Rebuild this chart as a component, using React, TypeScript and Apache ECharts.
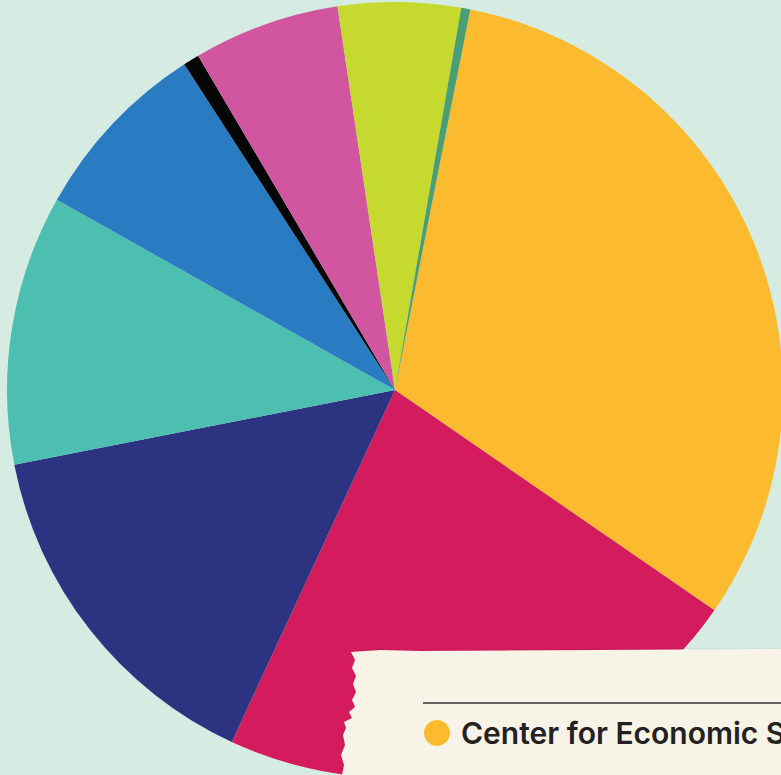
import React, { useEffect, useRef } from "react";
import * as echarts from "echarts";

const categories = [
  "Center for Economic Studies",
  "Category B",
  "Category C",
  "Category D",
  "Category E",
  "Category F",
  "Category G",
  "Category H",
  "Category I",
];
const values = [31.5, 22.3, 15.0, 11.25, 7.7, 0.67, 6.1, 5.1, 0.38];
const colors = [
  "#fcba2e",
  "#d41b5e",
  "#2c3481",
  "#4dbfb1",
  "#2a7cc2",
  "#050505",
  "#d2559f",
  "#c6d92e",
  "#4a9e74",
];

export default function App() {
  const ref = useRef<HTMLDivElement>(null);
  useEffect(() => {
    document.body.style.margin = "0";
    const chart = echarts.init(ref.current!, null, { renderer: "svg" });
    const tornLeft: number[][] = [
      [351, 652], [380, 650], [420, 651], [600, 650], [781, 649], [781, 775],
      [342, 775], [344, 765], [341, 755], [345, 745], [343, 735],
      [346, 728], [344, 722], [352, 718], [349, 712], [355, 707],
      [352, 700], [356, 692], [353, 684], [356, 676], [352, 668],
      [355, 660],
    ];
    chart.setOption({
      animation: false,
      backgroundColor: "#d6ece2",
      series: [
        {
          type: "pie",
          center: [395, 390],
          radius: [0, 388],
          startAngle: 78.8,
          clockwise: true,
          label: { show: false },
          labelLine: { show: false },
          itemStyle: { borderWidth: 0 },
          data: categories.map((c, i) => ({
            name: c,
            value: values[i],
            itemStyle: { color: colors[i] },
          })),
        },
      ],
      graphic: [
        {
          type: "polygon",
          shape: { points: tornLeft },
          style: { fill: "#f7f3e7", shadowBlur: 3, shadowColor: "rgba(0,0,0,0.12)" },
          z: 10,
        },
        {
          type: "line",
          shape: { x1: 423, y1: 703, x2: 781, y2: 703 },
          style: { stroke: "#333333", lineWidth: 1.5 },
          z: 11,
        },
        {
          type: "circle",
          shape: { cx: 437, cy: 733, r: 13 },
          style: { fill: colors[0] },
          z: 11,
        },
        {
          type: "text",
          x: 461,
          y: 733,
          style: {
            text: categories[0],
            fill: "#222222",
            font: "600 30px Inter, Roboto, sans-serif",
            textVerticalAlign: "middle",
          },
          z: 11,
        },
      ],
    });
    return () => chart.dispose();
  }, []);
  return (
    <div
      ref={ref}
      style={{ width: 781, height: 775, position: "absolute", left: 0, top: 0 }}
    />
  );
}
